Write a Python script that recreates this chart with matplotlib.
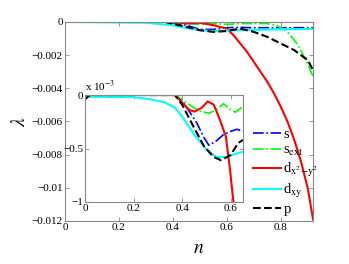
#!/usr/bin/env python3
import matplotlib
matplotlib.use('Agg')
import matplotlib.pyplot as plt
from matplotlib.ticker import FuncFormatter

# main panel data (n, lambda)
n_s = [0, 0.37, 0.45, 0.5, 0.55, 0.6, 0.65, 0.7, 0.8, 0.92]
lam_s = [0, 0, -0.0002, -0.00045, -0.00045, -0.00035, -0.00033, -0.00035, -0.00035, -0.00035]

n_sext = [0, 0.37, 0.45, 0.5, 0.55, 0.6, 0.65, 0.7, 0.75, 0.78, 0.82, 0.86, 0.9, 0.92]
lam_sext = [0, 0, -0.0001, -0.00015, -0.0001, -0.00015, -0.0001, -0.0001, -0.0001,
            -0.0002, -0.0005, -0.0013, -0.0025, -0.0033]

n_dx2 = [0, 0.4, 0.45, 0.5, 0.55, 0.6, 0.625, 0.65, 0.675, 0.7, 0.75, 0.775,
         0.8, 0.825, 0.85, 0.875, 0.9, 0.92]
lam_dx2 = [0, 0, -0.0001, -0.00005, -0.0002, -0.0004, -0.0008, -0.0013, -0.0018,
           -0.0024, -0.0036, -0.0043, -0.0051, -0.006, -0.0071, -0.0084, -0.0100, -0.0119]

n_dxy = [0, 0.3, 0.4, 0.45, 0.5, 0.55, 0.6, 0.7, 0.8, 0.92]
lam_dxy = [0, -0.00005, -0.0002, -0.00037, -0.0005, -0.00055, -0.00052, -0.00048, -0.00045, -0.00042]

n_p = [0, 0.37, 0.45, 0.5, 0.55, 0.6, 0.65, 0.7, 0.75, 0.8, 0.85, 0.9, 0.92]
lam_p = [0, 0, -0.0003, -0.0005, -0.0006, -0.00055, -0.0004, -0.0006, -0.0009,
         -0.0013, -0.0017, -0.0023, -0.0029]

# inset data (n, lambda in units of 1e-3)
in_n_s = [0, 0.37, 0.40, 0.42, 0.46, 0.49, 0.51, 0.54, 0.57, 0.60, 0.625, 0.65]
in_lam_s = [0, 0, -0.05, -0.12, -0.26, -0.40, -0.47, -0.43, -0.37, -0.34, -0.32, -0.34]

in_n_sext = [0, 0.37, 0.40, 0.43, 0.47, 0.51, 0.54, 0.57, 0.60, 0.62, 0.65]
in_lam_sext = [0, 0, -0.04, -0.09, -0.15, -0.17, -0.14, -0.08, -0.14, -0.16, -0.11]

in_n_dx2 = [0, 0.37, 0.40, 0.43, 0.45, 0.48, 0.505, 0.53, 0.555, 0.58, 0.597, 0.61, 0.625]
in_lam_dx2 = [0, 0, -0.07, -0.14, -0.155, -0.12, -0.06, -0.09, -0.23, -0.39, -0.70, -0.98, -1.2]

in_n_dxy = [0, 0.2, 0.27, 0.33, 0.37, 0.40, 0.45, 0.50, 0.54, 0.58, 0.62, 0.65]
in_lam_dxy = [-0.015, -0.02, -0.04, -0.07, -0.12, -0.2, -0.37, -0.51, -0.58, -0.58, -0.55, -0.53]

in_n_p = [0, 0.02, 0.37, 0.40, 0.45, 0.49, 0.53, 0.56, 0.60, 0.63, 0.65]
in_lam_p = [-0.04, 0, 0, -0.09, -0.31, -0.48, -0.58, -0.61, -0.56, -0.45, -0.42]

labels = ['s', r's$_{\mathrm{ext}}$', r'd$_{\mathrm{x^2\!-\!y^2}}$', r'd$_{\mathrm{xy}}$', 'p']
styles = [
    dict(color='#0000ff', ls='-.', lw=1.2),
    dict(color='#00ff00', ls='-.', lw=1.2),
    dict(color='#ff0000', ls='-', lw=1.5),
    dict(color='#00ffff', ls='-', lw=1.5),
    dict(color='black', ls='--', lw=1.5),
]

plt.rcParams['font.family'] = ['Liberation Serif', 'DejaVu Serif']
plt.rcParams['mathtext.fontset'] = 'stix'


def fmt(v, pos):
    s = f'{v:g}'
    if s in ('-0', '0'):
        return '0'
    return s.replace('-', '\u2212')


def style_axes(ax, size):
    for sp in ax.spines.values():
        sp.set_color('#888888')
        sp.set_linewidth(0.8)
    ax.tick_params(direction='in', top=True, right=True, length=3,
                   width=0.6, color='#888888', labelsize=size, pad=1.5)
    ax.yaxis.set_major_formatter(FuncFormatter(fmt))
    ax.xaxis.set_major_formatter(FuncFormatter(fmt))


def plot_results():
    fig = plt.figure(figsize=(3.49, 2.64), dpi=100)
    ax = fig.add_axes([0.186, 0.163, 0.711, 0.754])
    main = [(n_s, lam_s), (n_sext, lam_sext), (n_dx2, lam_dx2), (n_dxy, lam_dxy), (n_p, lam_p)]
    handles = []
    for (x, y), lab, st in zip(main, labels, styles):
        h, = ax.plot(x, y, label=lab, **st)
        handles.append(h)
    ax.set_xlim(0, 0.92)
    ax.set_ylim(-0.012, 0.0)
    ax.set_xticks([0, 0.2, 0.4, 0.6, 0.8])
    ax.set_yticks([0, -0.002, -0.004, -0.006, -0.008, -0.01, -0.012])
    style_axes(ax, 8)
    ax.set_xlabel('$n$', fontsize=14)
    ax.xaxis.set_label_coords(0.54, -0.095)
    ax.set_ylabel('$\\lambda$', fontsize=14, labelpad=2)

    ax.legend(handles=handles, loc='upper left', bbox_to_anchor=(247 / 349, 1 - 122 / 264),
              bbox_transform=fig.transFigure, frameon=False, fontsize=10.5,
              handlelength=1.9, handletextpad=0.2, labelspacing=0.2, borderaxespad=0)

    ins = fig.add_axes([0.2436, 0.235, 0.4524, 0.405])
    inset = [(in_n_s, in_lam_s), (in_n_sext, in_lam_sext), (in_n_dx2, in_lam_dx2),
             (in_n_dxy, in_lam_dxy), (in_n_p, in_lam_p)]
    for (x, y), st in zip(inset, styles):
        ins.plot(x, y, **st)
    ins.set_xlim(0, 0.65)
    ins.set_ylim(-1, 0)
    ins.set_xticks([0, 0.2, 0.4, 0.6])
    ins.set_yticks([0, -0.5, -1])
    style_axes(ins, 8)
    ins.text(0.0, 1.01, r'x 10$^{-3}$', transform=ins.transAxes, fontsize=8,
             ha='left', va='bottom')

    fig.savefig('out.png', dpi=100)


if __name__ == '__main__':
    plot_results()
